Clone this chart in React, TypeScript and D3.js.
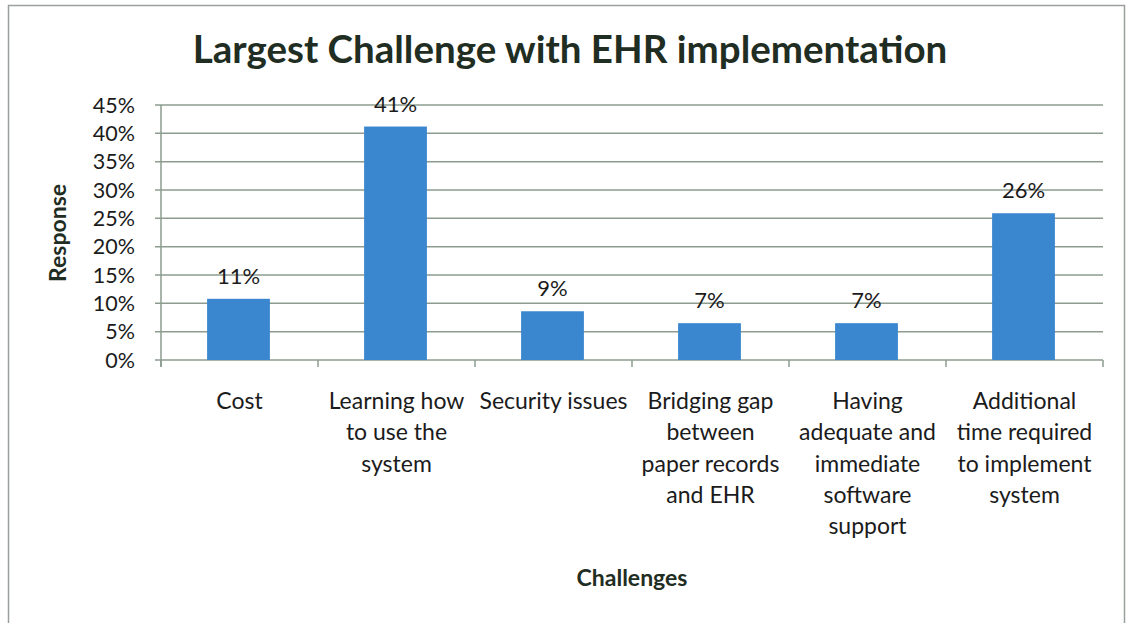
import { useEffect, useRef } from 'react'
import * as d3 from 'd3'

// chart values
const categories = [
  'Cost',
  'Learning how to use the system',
  'Security issues',
  'Bridging gap between paper records and EHR',
  'Having adequate and immediate software support',
  'Additional time required to implement system',
]
const labelLines = [
  ['Cost'],
  ['Learning how', 'to use the', 'system'],
  ['Security issues'],
  ['Bridging gap', 'between', 'paper records', 'and EHR'],
  ['Having', 'adequate and', 'immediate', 'software', 'support'],
  ['Additional', 'time required', 'to implement', 'system'],
]
const responses = [10.8, 41.2, 8.6, 6.5, 6.5, 25.9]
const valueLabels = ['11%', '41%', '9%', '7%', '7%', '26%']
const yTicks = [0, 5, 10, 15, 20, 25, 30, 35, 40, 45]

const W = 1128, H = 623
const M = { top: 105, right: 25, bottom: 263, left: 161 }
const IW = W - M.left - M.right
const IH = H - M.top - M.bottom
const FONT = 'Lato, "Open Sans", sans-serif'
const GRID = '#8d9c8f'
const TEXT = '#1b1b1b'

export default function App() {
  const svgRef = useRef<SVGSVGElement>(null)

  useEffect(() => {
    const svg = d3.select(svgRef.current)
    svg.selectAll('*').remove()

    const x = d3.scaleBand<string>().domain(categories).range([0, IW]).padding(0)
    const y = d3.scaleLinear().domain([0, 45]).range([IH, 0])

    // frame
    svg.append('rect')
      .attr('x', 8.5).attr('y', 5.5).attr('width', W - 12).attr('height', H + 10)
      .attr('fill', 'white').attr('stroke', '#9aa09a').attr('stroke-width', 1.5)

    svg.append('text')
      .attr('x', 570).attr('y', 63)
      .attr('text-anchor', 'middle').attr('font-family', FONT)
      .attr('font-weight', 700).attr('font-size', 38.5).attr('fill', '#1f2d22')
      .text('Largest Challenge with EHR implementation')

    const g = svg.append('g').attr('transform', `translate(${M.left},${M.top})`)

    // gridlines
    g.selectAll('line.grid')
      .data(yTicks)
      .join('line')
      .attr('class', 'grid')
      .attr('x1', -6).attr('x2', IW)
      .attr('y1', (d) => y(d)).attr('y2', (d) => y(d))
      .attr('stroke', GRID).attr('stroke-width', 1.5)

    // y axis line
    g.append('line')
      .attr('x1', 0).attr('x2', 0).attr('y1', 0).attr('y2', IH + 7)
      .attr('stroke', GRID).attr('stroke-width', 1.5)

    // x ticks at band edges
    const edges = categories.map((c) => x(c)!).concat([IW])
    g.selectAll('line.xtick')
      .data(edges)
      .join('line')
      .attr('class', 'xtick')
      .attr('x1', (d) => d).attr('x2', (d) => d)
      .attr('y1', IH).attr('y2', IH + 7)
      .attr('stroke', GRID).attr('stroke-width', 1.5)

    // y tick labels
    g.selectAll('text.ytick')
      .data(yTicks)
      .join('text')
      .attr('class', 'ytick')
      .attr('x', -26).attr('y', (d) => y(d))
      .attr('dy', '0.36em').attr('text-anchor', 'end')
      .attr('font-family', FONT).attr('font-size', 21.5).attr('fill', TEXT)
      .text((d) => `${d}%`)

    // bars
    const bw = x.bandwidth() * 0.4
    g.selectAll('rect.bar')
      .data(responses)
      .join('rect')
      .attr('class', 'bar')
      .attr('x', (_, i) => x(categories[i])! + x.bandwidth() / 2 - bw / 2 - 1)
      .attr('y', (d) => y(d))
      .attr('width', bw)
      .attr('height', (d) => IH - y(d))
      .attr('fill', '#3a87cf')

    // value labels
    g.selectAll('text.val')
      .data(responses)
      .join('text')
      .attr('class', 'val')
      .attr('x', (_, i) => x(categories[i])! + x.bandwidth() / 2 - 1)
      .attr('y', (d) => y(d) - 15)
      .attr('text-anchor', 'middle')
      .attr('font-family', FONT).attr('font-size', 22).attr('fill', TEXT)
      .text((_, i) => valueLabels[i])

    // category labels
    categories.forEach((c, i) => {
      const cx = x(c)! + x.bandwidth() / 2
      const t = g.append('text')
        .attr('x', cx)
        .attr('y', IH + 49)
        .attr('text-anchor', 'middle')
        .attr('font-family', FONT).attr('font-size', 23).attr('fill', TEXT)
      labelLines[i].forEach((line, j) => {
        t.append('tspan')
          .attr('x', cx)
          .attr('dy', j === 0 ? 0 : 31.3)
          .text(line)
      })
    })

    // axis titles
    svg.append('text')
      .attr('transform', 'rotate(-90)')
      .attr('x', -233).attr('y', 66)
      .attr('text-anchor', 'middle').attr('font-family', FONT)
      .attr('font-weight', 700).attr('font-size', 23).attr('fill', '#1f2d22')
      .text('Response')

    svg.append('text')
      .attr('x', 632).attr('y', 586)
      .attr('text-anchor', 'middle').attr('font-family', FONT)
      .attr('font-weight', 700).attr('font-size', 23).attr('fill', '#1f2d22')
      .text('Challenges')
  }, [])

  return (
    <svg
      ref={svgRef}
      width={W}
      height={H}
      viewBox={`0 0 ${W} ${H}`}
      style={{ position: 'absolute', left: 0, top: 0, background: 'white' }}
    />
  )
}
